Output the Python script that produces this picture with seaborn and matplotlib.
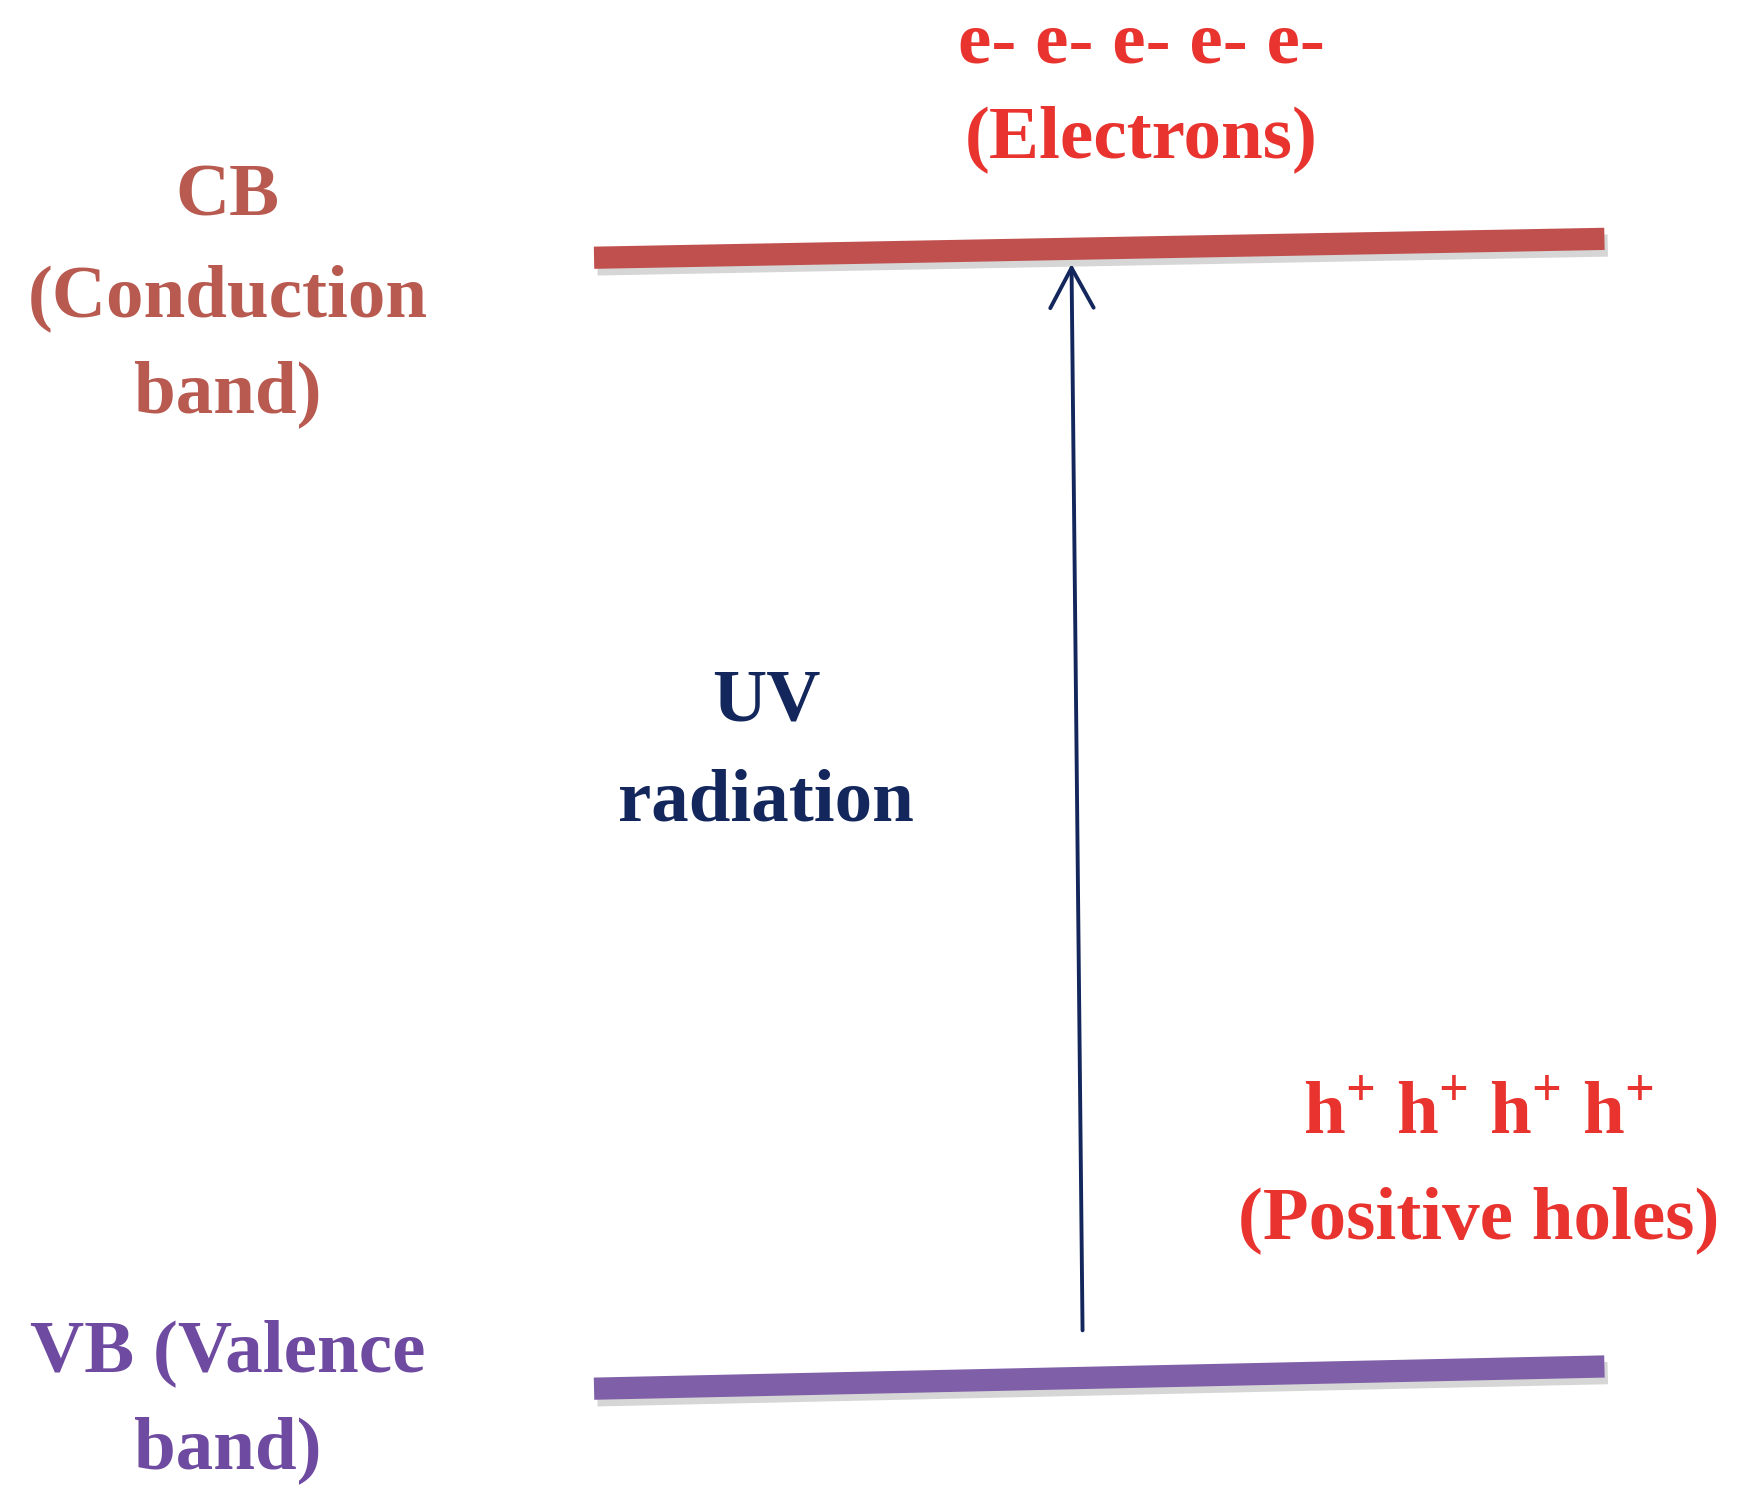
import matplotlib
matplotlib.use("Agg")
import matplotlib.pyplot as plt
import seaborn as sns
import pandas as pd

sns.set_theme(style="white")
plt.rcParams['font.family'] = ['Liberation Serif', 'DejaVu Serif']
plt.rcParams['mathtext.fontset'] = 'custom'
plt.rcParams['mathtext.rm'] = 'Liberation Serif:bold'
plt.rcParams['mathtext.bf'] = 'Liberation Serif:bold'

# Diagram data (image coordinates of a 1568x1352 canvas)
band_names = ["CB", "VB"]
band_x = [[535, 1445], [535, 1445]]
band_y = [[232, 215], [1250, 1230]]
band_colors = ["#c0504d", "#7f5fa8"]
arrow_start = (975, 1200)
arrow_end = (965, 235)
labels = [
    ("CB", 205, 178, "#b85a50"),
    ("(Conduction", 205, 268, "#b85a50"),
    ("band)", 205, 355, "#b85a50"),
    ("e- e- e- e- e-", 1028, 40, "#e8332f"),
    ("(Electrons)", 1028, 125, "#e8332f"),
    ("UV", 690, 632, "#13275c"),
    ("radiation", 690, 722, "#13275c"),
    (r"h$^{+}$ h$^{+}$ h$^{+}$ h$^{+}$", 1332, 1005, "#e8332f"),
    ("(Positive holes)", 1332, 1098, "#e8332f"),
    ("VB (Valence", 205, 1218, "#6e4aa0"),
    ("band)", 205, 1305, "#6e4aa0"),
]

fig = plt.figure(figsize=(17.41, 15.02), dpi=100)
ax = fig.add_axes([0, 0, 1, 1])
ax.set_xlim(0, 1568)
ax.set_ylim(1352, 0)
ax.axis("off")

for name, xs, ys, c in zip(band_names, band_x, band_y, band_colors):
    df = pd.DataFrame({"x": xs, "y": ys})
    ax.plot([x + 3 for x in xs], [y + 6 for y in ys], color="#bbbbbb", lw=16,
            alpha=0.6, solid_capstyle="butt")
    sns.lineplot(data=df, x="x", y="y", ax=ax, color=c, linewidth=16,
                 solid_capstyle="butt", legend=False)

ax.annotate("", xy=arrow_end, xytext=arrow_start,
            arrowprops=dict(arrowstyle="->,head_length=2.4,head_width=1.3",
                            color="#13275c", lw=2.8))

for t, x, y, c in labels:
    ax.text(x, y, t, color=c, fontsize=54, fontweight="bold",
            ha="center", va="center")

ax.set_xlabel("")
ax.set_ylabel("")
fig.savefig("out.png", dpi=100)
